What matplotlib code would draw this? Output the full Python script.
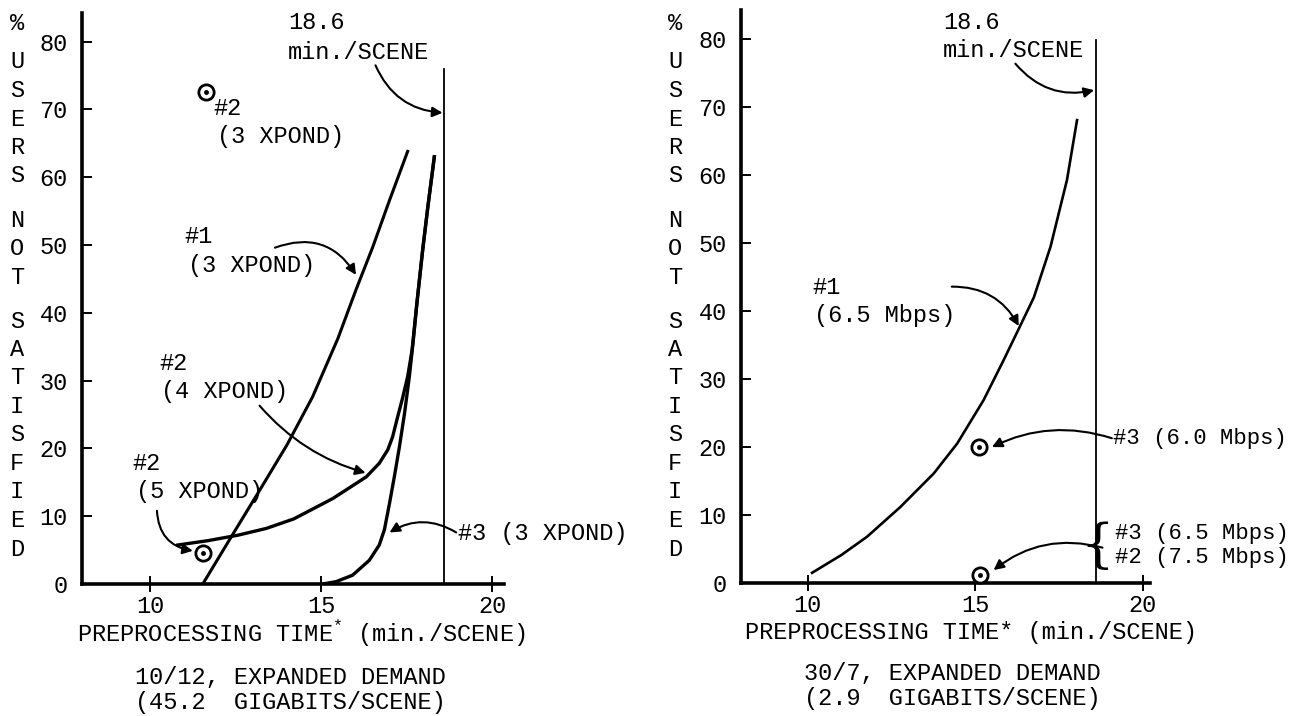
import matplotlib
matplotlib.use("Agg")
import matplotlib.pyplot as plt

plt.rcParams["font.family"] = ["Liberation Mono", "DejaVu Sans Mono"]
plt.rcParams["mathtext.fontset"] = "custom"
plt.rcParams["mathtext.rm"] = "Liberation Mono"

# ==============================
# DATA
# ==============================

# left panel: 10/12, expanded demand
x_1_3xpond = [11.54, 12.39, 13.2, 14.0, 14.75, 15.49, 16.02, 16.51, 17.0, 17.53]
y_1_3xpond = [0.0, 7.1, 13.8, 20.5, 27.6, 36.2, 43.4, 49.7, 56.6, 63.8]

x_2_4xpond = [10.81, 11.7, 12.57, 13.4, 14.2, 15.34, 16.32, 16.70, 16.95, 17.09,
              17.24, 17.39, 17.53, 17.66, 17.8, 17.97, 18.12, 18.31]
y_2_4xpond = [5.75, 6.4, 7.2, 8.2, 9.6, 12.6, 15.8, 17.8, 19.8, 21.7,
              24.7, 27.6, 30.6, 34.5, 41.4, 49.3, 55.6, 63.0]

x_3_3xpond = [15.05, 15.44, 15.92, 16.41, 16.7, 16.85, 17.0, 17.14, 17.29,
              17.44, 17.58, 17.7, 17.8, 17.97, 18.12, 18.31]
y_3_3xpond = [0.0, 0.35, 1.3, 3.5, 5.75, 8.0, 11.9, 15.8, 20.25,
              25.2, 30.6, 36.2, 41.4, 49.3, 55.6, 63.0]

pts_left_x = [11.62, 11.56]      # #2 (3 XPOND), #2 (5 XPOND)
pts_left_y = [72.6, 4.6]

# right panel: 30/7, expanded demand
x_1_65mbps = [10.13, 11.0, 11.77, 12.77, 13.76, 14.46, 15.25, 15.85, 16.35,
              16.75, 17.25, 17.74, 18.04]
y_1_65mbps = [1.5, 4.1, 6.8, 11.2, 16.1, 20.5, 26.9, 32.8, 37.9,
              42.0, 49.5, 59.3, 68.1]

pts_right_x = [15.1, 15.13]      # #3 (6.0 Mbps), #3/#2 (6.5/7.5 Mbps)
pts_right_y = [20.0, 1.2]

limit_time = 18.6                # min./SCENE
x_ticks = [10, 15, 20]
y_ticks = [0, 10, 20, 30, 40, 50, 60, 70, 80]

# ==============================
# FIGURE SETUP
# ==============================

W, H = 1293, 716
fig = plt.figure(figsize=(W / 100, H / 100), dpi=100)
fig.patch.set_facecolor("white")

FS = 17
FS_EDGE = 16


def fx(px):
    return px / W


def fy(py):
    return 1 - py / H


ax_l = fig.add_axes([fx(81.7), fy(584), 422.4 / W, 570.9 / H])
ax_r = fig.add_axes([fx(740.7), fy(583), 409.7 / W, 573.0 / H])


def style_axes(ax, xmax, ytop):
    ax.set_xlim(8, xmax)
    ax.set_ylim(0, ytop)
    for s in ["top", "right"]:
        ax.spines[s].set_visible(False)
    for s in ["left", "bottom"]:
        ax.spines[s].set_linewidth(2.6)
    ax.set_xticks(x_ticks)
    ax.set_yticks(y_ticks)
    ax.tick_params(axis="x", direction="inout", length=11.5, width=1.4,
                   pad=2, labelsize=FS)
    ax.tick_params(axis="y", direction="in", length=7, width=1.4,
                   pad=10, labelsize=FS)
    ax.set_facecolor("white")


style_axes(ax_l, 20.35, 84.2)
style_axes(ax_r, 20.23, 84.3)


def circle_points(ax, xs, ys):
    ax.plot(xs, ys, linestyle="none", marker="o", ms=11, mfc="white",
            mec="black", mew=2, clip_on=False, zorder=4)
    ax.plot(xs, ys, linestyle="none", marker="o", ms=2.5, color="black",
            clip_on=False, zorder=5)


def pointer(ax, start, tip, rad=0.2):
    ax.annotate("", xy=tip, xytext=start,
                arrowprops=dict(arrowstyle="-|>", color="black", lw=1.5,
                                mutation_scale=15, shrinkA=0, shrinkB=0,
                                connectionstyle=f"arc3,rad={rad}"))


# ==============================
# LEFT PANEL
# ==============================

ax_l.plot(x_1_3xpond, y_1_3xpond, color="black", lw=2.2)
ax_l.plot(x_2_4xpond, y_2_4xpond, color="black", lw=2.4)
ax_l.plot(x_3_3xpond, y_3_3xpond, color="black", lw=2.4)
ax_l.plot([limit_time, limit_time], [0, 76], color="black", lw=1.3)
circle_points(ax_l, pts_left_x, pts_left_y)

ax_l.text(14.04, 82.8, "18.6", fontsize=FS, va="center")
ax_l.text(14.02, 78.4, "min./SCENE", fontsize=FS, va="center")
pointer(ax_l, (16.59, 76.5), (18.55, 69.5), rad=0.3)

ax_l.text(11.84, 70.2, "#2", fontsize=FS, va="center")
ax_l.text(11.97, 66.0, "(3 XPOND)", fontsize=FS, va="center")

ax_l.text(10.99, 51.2, "#1", fontsize=FS, va="center")
ax_l.text(11.11, 47.0, "(3 XPOND)", fontsize=FS, va="center")
pointer(ax_l, (13.65, 49.6), (16.02, 45.6), rad=-0.4)

ax_l.text(10.27, 32.5, "#2", fontsize=FS, va="center")
ax_l.text(10.32, 28.4, "(4 XPOND)", fontsize=FS, va="center")
pointer(ax_l, (13.2, 26.3), (16.3, 16.4), rad=0.15)

ax_l.text(9.48, 17.8, "#2", fontsize=FS, va="center")
ax_l.text(9.6, 13.6, "(5 XPOND)", fontsize=FS, va="center")
pointer(ax_l, (10.2, 10.8), (11.25, 4.9), rad=0.4)

ax_l.text(19.0, 7.5, "#3 (3 XPOND)", fontsize=FS, va="center")
pointer(ax_l, (18.95, 7.6), (17.0, 7.6), rad=0.3)

# ==============================
# RIGHT PANEL
# ==============================

ax_r.plot(x_1_65mbps, y_1_65mbps, color="black", lw=1.9)
ax_r.plot([limit_time, limit_time], [0, 79.9], color="black", lw=1.3)
circle_points(ax_r, pts_right_x, pts_right_y)

ax_r.text(14.04, 82.5, "18.6", fontsize=FS, va="center")
ax_r.text(14.04, 78.4, "min./SCENE", fontsize=FS, va="center")
pointer(ax_r, (16.2, 76.4), (18.55, 72.5), rad=0.3)

ax_r.text(10.14, 43.5, "#1", fontsize=FS, va="center")
ax_r.text(10.2, 39.4, "(6.5 Mbps)", fontsize=FS, va="center")
pointer(ax_r, (14.3, 43.6), (16.3, 37.8), rad=-0.3)

ax_r.text(19.12, 21.3, "#3 (6.0 Mbps)", fontsize=FS_EDGE, va="center")
pointer(ax_r, (19.08, 21.3), (15.5, 20.0), rad=0.2)

ax_r.text(19.14, 5.4, "{", fontsize=38, va="center", ha="right",
          fontfamily="DejaVu Serif", fontweight="light")
ax_r.text(19.17, 7.35, "#3 (6.5 Mbps)", fontsize=FS_EDGE, va="center")
ax_r.text(19.17, 3.7, "#2 (7.5 Mbps)", fontsize=FS_EDGE, va="center")
pointer(ax_r, (18.8, 5.2), (15.55, 1.9), rad=0.25)

# ==============================
# AXIS TITLES AND CAPTIONS
# ==============================

ylabel_words = ["%", "USERS", "NOT", "SATISFIED"]
step, gap = 28.5, 44
letter_y = [23.0]
y = 62.0
for word in ylabel_words[1:]:
    for ch in word:
        letter_y.append(y)
        y += step
    y += gap - step
letters = "".join(ylabel_words)

for xpx in (17, 675):
    for ch, ypx in zip(letters, letter_y):
        fig.text(fx(xpx), fy(ypx), ch, fontsize=FS, ha="center", va="center")

fig.text(fx(301), fy(633), r"PREPROCESSING TIME$^{*}$ (min./SCENE)",
         fontsize=FS, ha="center", va="center")
fig.text(fx(971), fy(633), r"PREPROCESSING TIME* (min./SCENE)",
         fontsize=FS, ha="center", va="center")

fig.text(fx(290), fy(677), "10/12, EXPANDED DEMAND", fontsize=FS,
         ha="center", va="center")
fig.text(fx(290), fy(703), "(45.2  GIGABITS/SCENE)", fontsize=FS,
         ha="center", va="center")
fig.text(fx(952), fy(673), "30/7, EXPANDED DEMAND", fontsize=FS,
         ha="center", va="center")
fig.text(fx(952), fy(698), "(2.9  GIGABITS/SCENE)", fontsize=FS,
         ha="center", va="center")

fig.savefig("out.png", dpi=100, facecolor="white")
